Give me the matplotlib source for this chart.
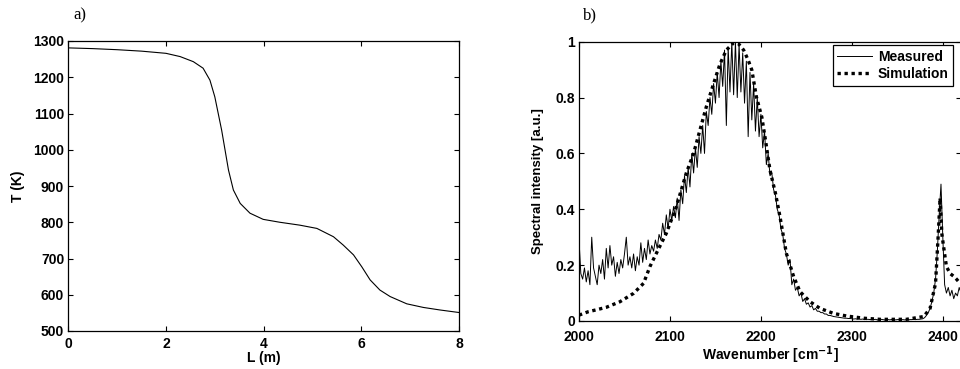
import numpy as np
import matplotlib
matplotlib.use("Agg")
import matplotlib.pyplot as plt

plt.rcParams['font.family'] = ['Liberation Sans', 'DejaVu Sans']
plt.rcParams['font.weight'] = 'bold'

# ---------------- data: panel a ----------------
L_m = [0.0, 0.5, 1.0, 1.5, 2.0, 2.29, 2.56, 2.76, 2.90, 3.00, 3.07, 3.14, 3.21,
       3.28, 3.38, 3.52, 3.72, 3.99, 4.33, 4.74, 5.09, 5.43, 5.63, 5.84, 6.01,
       6.18, 6.38, 6.59, 6.93, 7.27, 7.61, 8.0]
T_K = [1281, 1279, 1276, 1272, 1266, 1257, 1243, 1225, 1192, 1146, 1100, 1054, 999,
       944, 889, 852, 825, 808, 800, 792, 783, 760, 737, 710, 677,
       641, 613, 595, 575, 565, 558, 551]
a_xticks = [0, 2, 4, 6, 8]
a_yticks = [500, 600, 700, 800, 900, 1000, 1100, 1200, 1300]

# ---------------- data: panel b ----------------
wn_meas = np.arange(2000, 2426, 2)
measured = [
    0.29, 0.17, 0.15, 0.19, 0.14, 0.18, 0.13, 0.30, 0.19, 0.16,
    0.13, 0.20, 0.17, 0.22, 0.15, 0.26, 0.19, 0.27, 0.20, 0.23,
    0.16, 0.21, 0.17, 0.22, 0.19, 0.24, 0.30, 0.20, 0.23, 0.19,
    0.24, 0.18, 0.23, 0.20, 0.28, 0.21, 0.26, 0.22, 0.29, 0.24,
    0.27, 0.25, 0.29, 0.26, 0.31, 0.29, 0.35, 0.31, 0.38, 0.33,
    0.40, 0.36, 0.41, 0.37, 0.44, 0.36, 0.47, 0.42, 0.52, 0.46,
    0.55, 0.48, 0.60, 0.53, 0.62, 0.55, 0.66, 0.60, 0.70, 0.60,
    0.75, 0.70, 0.80, 0.74, 0.85, 0.78, 0.89, 0.80, 0.93, 0.84,
    0.97, 0.70, 0.98, 0.82, 1.00, 0.81, 1.00, 0.80, 0.99, 0.82,
    0.96, 0.78, 0.93, 0.66, 0.89, 0.72, 0.85, 0.68, 0.80, 0.66,
    0.74, 0.62, 0.68, 0.56, 0.60, 0.52, 0.53, 0.47, 0.45, 0.40,
    0.38, 0.33, 0.31, 0.26, 0.24, 0.20, 0.22, 0.13, 0.15, 0.11,
    0.12, 0.09, 0.10, 0.07, 0.08, 0.06, 0.065, 0.05, 0.055, 0.04,
    0.045, 0.035, 0.035, 0.03, 0.03, 0.025, 0.025, 0.02, 0.02, 0.018,
    0.016, 0.015, 0.014, 0.013, 0.012, 0.011, 0.010, 0.010, 0.009, 0.009,
    0.008, 0.007, 0.008, 0.006, 0.007, 0.006, 0.007, 0.005, 0.006, 0.006,
    0.005, 0.006, 0.005, 0.006, 0.004, 0.005, 0.006, 0.005, 0.004, 0.005,
    0.005, 0.004, 0.006, 0.005, 0.004, 0.005, 0.005, 0.004, 0.005, 0.004,
    0.005, 0.004, 0.005, 0.005, 0.006, 0.005, 0.006, 0.006, 0.007, 0.008,
    0.012, 0.02, 0.03, 0.045, 0.07, 0.10, 0.15, 0.25, 0.38, 0.49,
    0.30, 0.13, 0.10, 0.12, 0.09, 0.11, 0.08, 0.10, 0.09, 0.12,
    0.10, 0.13, 0.11,
]
wn_sim = [2000, 2010, 2019, 2030, 2045, 2060, 2071, 2078, 2085, 2096, 2107, 2118,
          2126, 2133, 2140, 2148, 2155, 2162, 2170, 2175, 2181, 2186, 2190, 2195,
          2201, 2205, 2210, 2216, 2221, 2228, 2236, 2243, 2254, 2265, 2280, 2294,
          2313, 2331, 2360, 2379, 2386, 2392, 2395, 2397, 2399, 2402, 2404, 2408,
          2412, 2415, 2419]
simulation = [0.021, 0.033, 0.040, 0.049, 0.069, 0.099, 0.135, 0.195, 0.242, 0.314,
              0.409, 0.53, 0.60, 0.684, 0.767, 0.85, 0.92, 0.97, 0.996, 0.994, 0.97,
              0.934, 0.899, 0.803, 0.73, 0.648, 0.54, 0.457, 0.373, 0.242, 0.159,
              0.105, 0.069, 0.045, 0.027, 0.018, 0.010, 0.006, 0.006, 0.016, 0.045,
              0.135, 0.31, 0.44, 0.31, 0.24, 0.195, 0.17, 0.16, 0.15, 0.135]
b_xticks = [2000, 2100, 2200, 2300, 2400]
b_yticks = [0, 0.2, 0.4, 0.6, 0.8, 1.0]
b_yticklabels = ['0', '0.2', '0.4', '0.6', '0.8', '1']

W, H = 960, 369
fig = plt.figure(figsize=(W / 100, H / 100), dpi=100)

def style(ax, xpad):
    ax.tick_params(direction='in', top=True, right=True, length=3.5, width=0.8,
                   labelsize=10, pad=3)
    ax.tick_params(axis='x', pad=xpad)
    for s in ax.spines.values():
        s.set_linewidth(0.9)
    for lab in ax.get_xticklabels() + ax.get_yticklabels():
        lab.set_fontweight('bold')

# panel a
ax1 = fig.add_axes([68.3 / W, 1 - 331 / H, (459 - 68.3) / W, (331 - 41) / H])
ax1.plot(L_m, T_K, color='black', lw=0.8)
ax1.set_xlim(0, 8)
ax1.set_ylim(500, 1300)
ax1.set_xticks(a_xticks)
ax1.set_yticks(a_yticks)
style(ax1, 4.5)
ax1.set_xlabel('L (m)', fontsize=10, fontweight='bold', labelpad=0)
ax1.set_ylabel('T (K)', fontsize=10, fontweight='bold', labelpad=6)

# panel b
ax2 = fig.add_axes([579 / W, 1 - 321 / H, (961 - 579) / W, (321 - 41.7) / H])
ax2.plot(wn_meas, measured, color='black', lw=0.7, label='Measured')
ax2.plot(wn_sim, simulation, color='black', lw=2.4, dashes=(1, 1.1),
         dash_capstyle='butt', label='Simulation')
ax2.set_xlim(2000, 2420)
ax2.set_ylim(0, 1)
ax2.set_xticks(b_xticks)
ax2.set_yticks(b_yticks)
ax2.set_yticklabels(b_yticklabels)
style(ax2, 6.5)
ax2.set_xlabel('Wavenumber [cm$^{\\mathbf{-1}}$]', fontsize=10, fontweight='bold', labelpad=0)
ax2.set_ylabel('Spectral intensity [a.u.]', fontsize=9.5, fontweight='bold', labelpad=8)

leg = ax2.legend(loc='upper left', bbox_to_anchor=(832.5 / W, 1 - 45 / H),
                 bbox_transform=fig.transFigure, fancybox=False, framealpha=1,
                 edgecolor='black', handlelength=2.5, handletextpad=0.4,
                 borderpad=0.35, labelspacing=0.25, borderaxespad=0,
                 prop={'weight': 'bold', 'size': 10})
leg.get_frame().set_linewidth(0.9)

fig.text(73 / W, 1 - 15 / H, 'a)', family='Liberation Serif', fontsize=12,
         fontweight='normal', va='center', ha='left')
fig.text(583 / W, 1 - 15 / H, 'b)', family='Liberation Serif', fontsize=12,
         fontweight='normal', va='center', ha='left')

fig.savefig('out.png', dpi=100)
